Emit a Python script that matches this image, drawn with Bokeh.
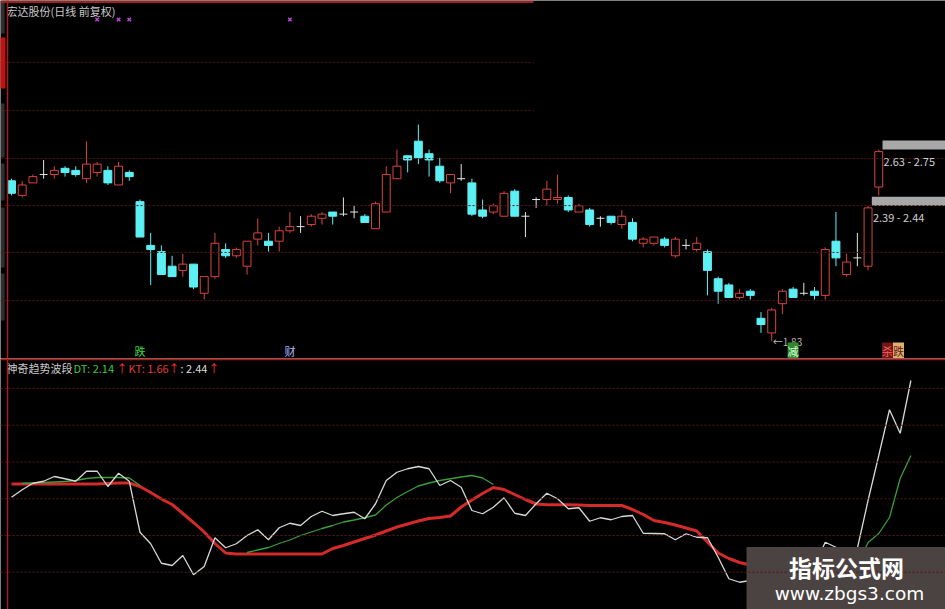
import numpy as np
from bokeh.plotting import figure
from bokeh.layouts import column
from bokeh.models import Range1d, Span, Label
from bokeh.embed import file_html
from bokeh.resources import INLINE

nan = float("nan")

# ---- daily bars (前复权) ----
opens = [2.60, 2.53, 2.59, 2.63, 2.63, 2.66, 2.65, 2.61, 2.64, 2.65,
         2.58, 2.64, 2.50, 2.29, 2.26, 2.19, 2.17, 2.20, 2.06, 2.14,
         2.27, 2.24, 2.19, 2.32, 2.31, 2.31, 2.36, 2.38, 2.39, 2.42,
         2.45, 2.44, 2.45, 2.43, 2.37, 2.45, 2.61, 2.72, 2.79, 2.73,
         2.67, 2.59, 2.61, 2.59, 2.46, 2.45, 2.43, 2.55, 2.43, 2.51,
         2.51, 2.51, 2.52, 2.45, 2.46, 2.42, 2.43, 2.39, 2.40, 2.30,
         2.30, 2.32, 2.24, 2.29, 2.27, 2.26, 2.13, 2.10, 2.04, 2.07,
         1.94, 1.87, 2.01, 2.08, 2.06, 2.07, 2.05, 2.31, 2.15, 2.23,
         2.19, 2.57]
closes = [2.54, 2.58, 2.62, 2.63, 2.65, 2.64, 2.63, 2.68, 2.68, 2.59,
          2.67, 2.62, 2.33, 2.27, 2.15, 2.14, 2.20, 2.09, 2.14, 2.30,
          2.24, 2.27, 2.31, 2.35, 2.29, 2.36, 2.38, 2.38, 2.43, 2.44,
          2.43, 2.44, 2.45, 2.40, 2.49, 2.63, 2.67, 2.70, 2.71, 2.70,
          2.60, 2.63, 2.61, 2.44, 2.43, 2.48, 2.54, 2.43, 2.43, 2.51,
          2.56, 2.52, 2.46, 2.48, 2.39, 2.42, 2.40, 2.43, 2.32, 2.32,
          2.33, 2.29, 2.32, 2.29, 2.30, 2.17, 2.07, 2.04, 2.06, 2.05,
          1.91, 1.98, 2.07, 2.04, 2.06, 2.05, 2.27, 2.23, 2.21, 2.23,
          2.47, 2.74]
highs = [2.61, 2.60, 2.63, 2.70, 2.67, 2.67, 2.67, 2.79, 2.69, 2.67,
         2.69, 2.65, 2.51, 2.35, 2.29, 2.24, 2.25, 2.20, 2.14, 2.35,
         2.30, 2.28, 2.31, 2.42, 2.35, 2.38, 2.45, 2.43, 2.44, 2.45,
         2.45, 2.52, 2.48, 2.44, 2.50, 2.67, 2.75, 2.72, 2.87, 2.75,
         2.71, 2.63, 2.68, 2.61, 2.51, 2.49, 2.55, 2.56, 2.45, 2.52,
         2.60, 2.63, 2.53, 2.49, 2.47, 2.43, 2.43, 2.46, 2.42, 2.33,
         2.33, 2.33, 2.33, 2.32, 2.33, 2.27, 2.14, 2.11, 2.08, 2.08,
         1.97, 1.99, 2.08, 2.09, 2.11, 2.09, 2.28, 2.45, 2.25, 2.35,
         2.48, 2.75]
lows = [2.53, 2.52, 2.59, 2.61, 2.61, 2.62, 2.62, 2.59, 2.62, 2.58,
        2.58, 2.60, 2.33, 2.10, 2.15, 2.14, 2.14, 2.08, 2.03, 2.13,
        2.23, 2.23, 2.15, 2.29, 2.26, 2.26, 2.35, 2.35, 2.38, 2.39,
        2.39, 2.43, 2.42, 2.40, 2.37, 2.45, 2.61, 2.64, 2.68, 2.62,
        2.59, 2.54, 2.60, 2.43, 2.42, 2.44, 2.43, 2.43, 2.33, 2.47,
        2.48, 2.49, 2.45, 2.45, 2.38, 2.38, 2.39, 2.37, 2.31, 2.28,
        2.29, 2.28, 2.23, 2.27, 2.26, 2.05, 2.01, 2.04, 2.03, 2.03,
        1.87, 1.83, 1.96, 2.04, 2.05, 2.03, 2.03, 2.19, 2.14, 2.19,
        2.17, 2.53]

# target zones printed beside the last two bars
zone_bars = [81, 80]
zone_texts = ["2.63 - 2.75", "2.39 - 2.44"]

# purple signal crosses along the top
signal_bars = [8, 10, 11, 26]

# ---- 神奇趋势波段 indicator ----
white_line = [1.973, 2.003, 2.029, 2.037, 2.056, 2.047, 2.037, 2.077, 2.077, 2.016,
              2.069, 2.037, 1.833, 1.787, 1.709, 1.700, 1.740, 1.663, 1.696, 1.811,
              1.771, 1.787, 1.820, 1.843, 1.803, 1.851, 1.869, 1.860, 1.896, 1.917,
              1.900, 1.907, 1.913, 1.887, 1.947, 2.040, 2.073, 2.087, 2.096, 2.087,
              2.020, 2.040, 2.013, 1.920, 1.907, 1.933, 1.971, 1.909, 1.900, 1.947,
              1.989, 1.967, 1.927, 1.931, 1.877, 1.891, 1.883, 1.896, 1.900, 1.829,
              1.828, 1.827, 1.803, 1.827, 1.813, 1.811, 1.733, 1.647, 1.633, 1.640,
              1.628, 1.600, 1.620, 1.660, 1.672, 1.700, 1.793, 1.773, 1.720, 1.768,
              1.960, 2.140, 2.323, 2.229, 2.440]
dt_line = [nan, 2.028, 2.030, 2.032, 2.034, 2.036, 2.040, 2.048, 2.052, 2.052,
           2.052, 2.050, 2.020, nan, nan, nan, nan, nan, nan, nan,
           nan, nan, 1.752, 1.762, 1.772, 1.788, 1.802, 1.820, 1.834, 1.848,
           1.860, 1.874, 1.882, 1.891, 1.902, 1.942, 1.972, 1.996, 2.018, 2.030,
           2.040, 2.047, 2.054, 2.060, 2.050, 2.024, nan, nan, nan, nan,
           nan, nan, nan, nan, nan, nan, nan, nan, nan, nan,
           nan, nan, nan, nan, nan, nan, nan, nan, nan, nan,
           nan, nan, nan, nan, nan, nan, nan, nan, nan, 1.700,
           1.792, 1.828, 1.892, 2.048, 2.140]
kt_line = [2.026, 2.026, 2.026, 2.026, 2.026, 2.026, 2.026, 2.026, 2.026, 2.028,
           2.030, 2.030, 2.016, 1.992, 1.966, 1.944, 1.908, 1.872, 1.834, 1.788,
           1.750, 1.746, 1.746, 1.746, 1.746, 1.746, 1.746, 1.746, 1.746, 1.746,
           1.768, 1.780, 1.794, 1.808, 1.822, 1.838, 1.854, 1.866, 1.878, 1.888,
           1.892, 1.898, 1.934, 1.962, 1.988, 2.012, 2.004, 1.984, 1.964, 1.946,
           1.943, 1.943, 1.943, 1.942, 1.940, 1.940, 1.940, 1.940, 1.924, 1.904,
           1.880, 1.872, 1.862, 1.850, 1.838, 1.794, 1.750, 1.728, 1.712, 1.702,
           1.696, 1.690, 1.684, 1.680, 1.676, 1.674, 1.672, 1.670, 1.668, 1.666,
           1.664, 1.662, 1.660, 1.660, 1.660]

price_grid = [3.168, 2.937, 2.707, 2.481, 2.256, 2.025]
ind_grid = [2.408, 2.261, 2.114, 1.967, 1.820, 1.673]

# ---- layout constants ----
W, H_TOP, H_BOT = 945, 358, 251
X0, DX = 11.0, 10.707            # pixel of first bar, bar pitch
P_TOP, P_K = 3.4654, 0.0048       # price at top edge, price per pixel
V_TOP, V_K = 3.96, 0.004          # indicator scale (page pixels)

def xi(px):
    return (px - X0) / DX

def yp(px):
    return P_TOP - P_K * px

def yv(px):
    return V_TOP - V_K * px

RED = "#d8443c"
CYAN = "#5cf0f5"
DOJI = "#e4e4e4"
GRID = "#5a1616"
FRAME = "#a81c1c"
CJK = "Noto Sans CJK SC"

x_range = Range1d(xi(0), xi(W))

def make_fig(h, y0, y1):
    f = figure(width=W, height=h, x_range=x_range, y_range=Range1d(y0, y1),
               toolbar_location=None, output_backend="svg",
               x_axis_location=None, y_axis_location=None, min_border=0,
               background_fill_color="black", border_fill_color="black",
               outline_line_color=None)
    f.grid.visible = False
    return f

top = make_fig(H_TOP, yp(H_TOP), yp(0))
bot = make_fig(H_BOT, yv(609), yv(358))

# ---- price panel ----
o = np.array(opens); c = np.array(closes); hi = np.array(highs); lo = np.array(lows)
idx = np.arange(len(o))
colors = np.where(c > o, RED, np.where(c < o, CYAN, DOJI)).tolist()
fills = np.where(c > o, "black", np.where(c < o, CYAN, DOJI)).tolist()

for lvl in price_grid[:2]:
    top.segment(x0=xi(0), y0=lvl, x1=xi(533), y1=lvl, line_color=GRID, line_dash="2 2")
for lvl in price_grid[2:]:
    top.add_layout(Span(location=lvl, dimension="width", line_color=GRID,
                        line_dash="2 2", line_width=1))
top.segment(x0=xi(0), y0=yp(1.5), x1=xi(533), y1=yp(1.5), line_color=FRAME, line_width=2)

top.segment(x0=idx, y0=lo, x1=idx, y1=hi, line_color=colors, line_width=1)
body = c != o
top.vbar(x=idx[body], width=0.74, top=np.maximum(o, c)[body], bottom=np.minimum(o, c)[body],
         fill_color=np.array(fills)[body].tolist(), line_color=np.array(colors)[body].tolist(),
         line_width=1)
flat = ~body
top.segment(x0=idx[flat] - 0.37, y0=o[flat], x1=idx[flat] + 0.37, y1=o[flat],
            line_color=DOJI, line_width=1)

# target zones
for b, t in zip(zone_bars, zone_texts):
    top.quad(left=b + 0.35, right=xi(W + 5), bottom=hi[b], top=hi[b] + 9 * P_K,
             fill_color="#a8a8a8", line_color=None)
    top.add_layout(Label(x=b + 0.45, y=hi[b] - 11 * P_K, text=t, text_color="#d0d0d0",
                         text_font=CJK, text_font_size="11px", text_baseline="middle"))

# lowest low marker
lo_i = int(np.argmin(lo))
top.add_layout(Label(x=lo_i + 0.1, y=lo[lo_i], text=f"\u2190{lo[lo_i]:.2f}", text_color="#b8b8b8",
                     text_font=CJK, text_font_size="10px", text_baseline="middle"))

# signal crosses
top.scatter(x=signal_bars, y=[yp(19)] * len(signal_bars), marker="x", size=5,
            line_color="#b048d0", line_width=1.5)

# title
top.add_layout(Label(x=xi(6), y=yp(10), text="宏达股份(日线 前复权)", text_color="#c8c8c8",
                     text_font=CJK, text_font_size="11px", text_baseline="middle"))

# bottom tags
tags = [(12, "跌", "#40d040", None), (26, "财", "#a8b8ff", None),
        (73, "减", "#d8ffd8", "#2e8a2e")]
for b, t, col, bg in tags:
    top.add_layout(Label(x=b, y=yp(350), text=t, text_color=col, text_font=CJK,
                         text_font_size="11px", text_align="center", text_baseline="middle",
                         background_fill_color=bg))
top.add_layout(Label(x=xi(887), y=yp(350), text="杀", text_color="#ff6060", text_font=CJK,
                     text_font_size="11px", text_align="center", text_baseline="middle",
                     background_fill_color="#701818"))
top.add_layout(Label(x=xi(898), y=yp(350), text="跌", text_color="#602010", text_font=CJK,
                     text_font_size="11px", text_align="center", text_baseline="middle",
                     background_fill_color="#e0b070"))

# left edge strip: the side toolbar tabs, mostly off-screen
top.quad(left=xi(-2), right=xi(5), bottom=yp(88), top=yp(37), fill_color="#c01414", line_color=None)
tab_spans = [(2, 33), (103, 157), (163, 200), (207, 267), (273, 320)]
for y_a, y_b in tab_spans:
    top.quad(left=xi(0), right=xi(4), bottom=yp(y_b), top=yp(y_a),
             fill_color="#6a6a6a", fill_alpha=0.45, line_color=None)

# ---- indicator panel ----
for lvl in ind_grid:
    bot.add_layout(Span(location=lvl, dimension="width", line_color=GRID,
                        line_dash="2 2", line_width=1))
bi = np.arange(len(white_line))
bot.line(bi, np.array(kt_line), line_color="#d42a2a", line_width=3)
bot.line(bi, np.array(dt_line, dtype=float), line_color="#3a9e3a", line_width=1.3)
bot.line(bi, np.array(white_line), line_color="#d8d8d8", line_width=1.3)

bot.add_layout(Span(location=yv(358.8), dimension="width", line_color=FRAME, line_width=2))

legend_parts = [
    (6, "神奇趋势波段", "#c8c8c8"),
    (73, f"DT: {dt_line[-1]:.2f}", "#40c840"),
    (116, "\u2191", "#ff3030"),
    (128, f"KT: {kt_line[-1]:.2f}", "#e03c3c"),
    (168, "\u2191", "#ff3030"),
    (180, f": {white_line[-1]:.2f}", "#dcdcdc"),
    (208, "\u2191", "#ff3030"),
]
for px, t, col in legend_parts:
    bot.add_layout(Label(x=xi(px), y=yv(367.5), text=t, text_color=col, text_font=CJK,
                         text_font_size="11px", text_baseline="middle"))

# site badge
bot.quad(left=xi(746), right=xi(W + 5), bottom=yv(615), top=yv(546.5),
         fill_color="#4b4342", line_color=None)
bot.add_layout(Label(x=xi(846), y=yv(566), text="指标公式网", text_color="white",
                     text_font=CJK, text_font_size="23px", text_font_style="bold",
                     text_align="center", text_baseline="middle"))
bot.add_layout(Label(x=xi(849), y=yv(593), text="www.zbgs3.com", text_color="white",
                     text_font="DejaVu Sans", text_font_size="18.5px",
                     text_align="center", text_baseline="middle"))

for f in (top, bot):
    f.add_layout(Span(location=xi(7), dimension="height", line_color=FRAME, line_width=1.5))

layout = column(top, bot, spacing=0)
open("out.html", "w").write(file_html(layout, INLINE))
